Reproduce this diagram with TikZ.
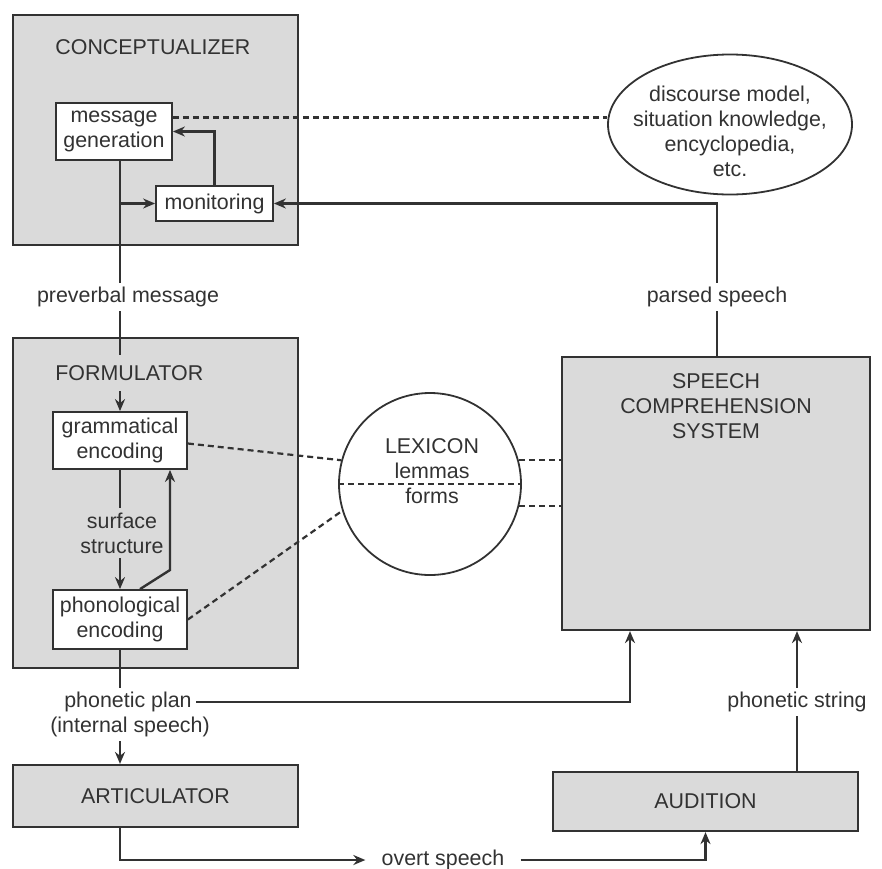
\documentclass[tikz,border=0pt]{standalone}
\usepackage{fontspec}
\setmainfont{Liberation Sans}
\definecolor{BoxGray}{RGB}{218, 218, 218}
\definecolor{InkGray}{RGB}{50, 50, 50}
\usetikzlibrary{arrows.meta, positioning, shapes, calc}

\begin{document}
\begin{tikzpicture}[x=0.5pt, y=-0.5pt,
    font=\fontsize{10.7}{12.5}\selectfont, text=InkGray,
    stagebox/.style={draw=InkGray, line width=1.1pt, fill=BoxGray, inner sep=0pt},
    procbox/.style={draw=InkGray, line width=0.9pt, fill=white, align=center, inner sep=0pt},
    flowline/.style={draw=InkGray, line width=1.2pt},
    arrowtip/.style={-{Stealth[length=6pt, width=5pt]}},
    dashlink/.style={draw=InkGray, line width=1.1pt, dash pattern=on 3pt off 2pt},
    lbl/.style={align=center, inner sep=2pt}]
    \useasboundingbox (0,0) rectangle (882,868);

    % Processing components
    \node[stagebox, minimum width=142.5pt, minimum height=115pt] (concept) at (155.5,130) {};
    \node[stagebox, minimum width=142.5pt, minimum height=165pt] (formul) at (155.5,503) {};
    \node[stagebox, minimum width=142.5pt, minimum height=31pt] (artic) at (155.5,796) {ARTICULATOR};
    \node[stagebox, minimum width=154pt, minimum height=136.5pt] (comp) at (716,493.5) {};
    \node[stagebox, minimum width=152.5pt, minimum height=29.5pt] (audit) at (705.5,801.5) {AUDITION};
    \node[anchor=west, inner xsep=1pt] (conceptlbl) at (53,47) {CONCEPTUALIZER};
    \node[lbl] (complbl) at (716,406) {SPEECH\\COMPREHENSION\\SYSTEM};

    % Inner processes
    \node[procbox, minimum width=58pt, minimum height=28.5pt] (msggen) at (114,131.5) {message\\generation};
    \node[procbox, minimum width=58.5pt, minimum height=17.5pt] (monitor) at (214.5,203.5) {monitoring};
    \node[procbox, minimum width=67pt, minimum height=28.5pt] (gram) at (120,440.5) {grammatical\\encoding};
    \node[procbox, minimum width=67pt, minimum height=29.5pt] (phon) at (120,619.5) {phonological\\encoding};

    % Knowledge stores
    \node[ellipse, draw=InkGray, line width=0.9pt, minimum width=122pt, minimum height=70pt, inner sep=0pt] (world) at (730,124.5) {};
    \node[lbl] (worldtxt) at (730,131) {discourse model,\\situation knowledge,\\encyclopedia,\\etc.};
    \node[circle, draw=InkGray, line width=0.9pt, minimum size=91pt, inner sep=0pt] (lex) at (430,484) {};
    \node[lbl] (lextxt) at (432,471) {LEXICON\\lemmas\\forms};

    % Labels on the connectors
    \node[lbl] (preverb) at (128,297) {preverbal message};
    \node[lbl] (parsed) at (717,297) {parsed speech};
    \node[lbl] (surface) at (122,533) {surface\\structure};
    \node[lbl] (plan) at (128,702) {phonetic plan};
    \node[lbl] (internal) at (130,727) {(internal speech)};
    \node[lbl] (pstring) at (797,702) {phonetic string};
    \node[lbl, inner xsep=8pt] (overt) at (443,860) {overt speech};

    % Conceptualizer internals
    \draw[flowline] (msggen.south -| gram.north) -- (preverb.north -| gram.north);
    \draw[flowline, arrowtip] (monitor.west -| gram.north) -- (monitor.west);
    \draw[flowline, arrowtip] (monitor.north) |- (msggen.east);
    \coordinate (mg) at ($(msggen.east)+(0,-14)$);
    \draw[dashlink] (mg) -- (mg -| world.west);

    % Feedback from comprehension
    \draw[flowline] (comp.north -| parsed) -- (parsed);
    \draw[flowline, arrowtip] (parsed) |- (monitor.east);

    % Formulator
    \draw[flowline, arrowtip] (preverb.south -| gram.north) -- (gram.north);
    \node[anchor=west, fill=BoxGray, inner xsep=1pt, inner ysep=5pt] (formlbl) at (53,373) {FORMULATOR};
    \draw[flowline] (gram.south) -- (surface.north -| gram.south);
    \draw[flowline, arrowtip] (surface.south -| gram.south) -- (phon.north);
    \coordinate (fb) at (170,570);
    \draw[flowline, arrowtip] ($(phon.north)+(20,0)$) -- (fb) -- (fb |- gram.south);

    % Lexicon access
    \draw[dashlink] (lex.west) -- (lex.east);
    \draw[dashlink] ($(gram.east)+(0,3)$) -- (lex.165);
    \draw[dashlink] (phon.east) -- (lex.197);
    \draw[dashlink] (lex.15) -- (lex.15 -| comp.west);
    \draw[dashlink] (lex.346) -- (lex.346 -| comp.west);

    % Output side
    \draw[flowline] (phon.south) -- (plan.north -| phon.south);
    \draw[flowline, arrowtip] (plan.east) -| ($(comp.south)+(-86,0)$);
    \draw[flowline, arrowtip] (internal.south -| phon.south) -- (artic.north -| phon.south);
    \draw[flowline, arrowtip] (artic.south -| phon.south) |- (overt.west);
    \draw[flowline, arrowtip] (overt.east) -| (audit.south);

    % Input side
    \draw[flowline] (audit.north -| pstring.south) -- (pstring.south);
    \draw[flowline, arrowtip] (pstring.north) -- (comp.south -| pstring.north);
\end{tikzpicture}
\end{document}
